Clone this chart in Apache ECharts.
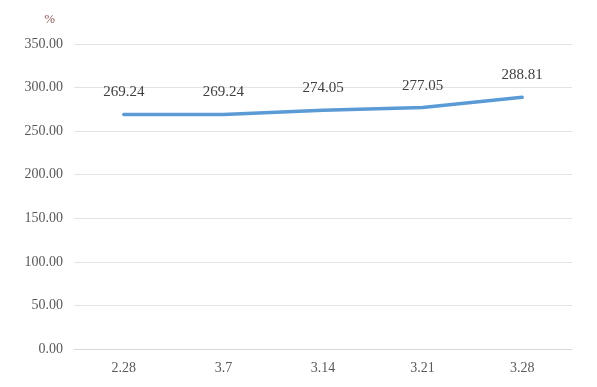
<!DOCTYPE html>
<html><head><meta charset="utf-8">
<script src="https://cdn.jsdelivr.net/npm/echarts@6/dist/echarts.min.js"></script>
<style>html,body{margin:0;padding:0;background:#fff}#c{width:597px;height:387px}</style>
</head><body><div id="c"></div>
<script>
const categories = ['2.28', '3.7', '3.14', '3.21', '3.28'];
const values = [269.24, 269.24, 274.05, 277.05, 288.81];
const yTicks = {min: 0, max: 350, interval: 50};
const unitName = '%';

const font = '"Liberation Serif", "DejaVu Serif", serif';
const chart = echarts.init(document.getElementById('c'));
chart.setOption({
  animation: false,
  grid: {left: 74, right: 25, top: 44, bottom: 38},
  xAxis: {
    type: 'category', data: categories,
    axisLine: {lineStyle: {color: '#d9d9d9', width: 1}},
    axisTick: {show: false},
    axisLabel: {color: '#595959', fontFamily: font, fontSize: 14, margin: 12}
  },
  yAxis: {
    type: 'value', min: yTicks.min, max: yTicks.max, interval: yTicks.interval,
    name: unitName, nameLocation: 'end', nameGap: 18,
    nameTextStyle: {color: '#8a5a5a', fontFamily: font, fontSize: 13, align: 'right', padding: [0, 19, 0, 0]},
    axisLine: {show: false}, axisTick: {show: false},
    splitLine: {lineStyle: {color: '#e3e3e3', width: 1}},
    axisLabel: {color: '#595959', fontFamily: font, fontSize: 14, margin: 11,
      formatter: v => v.toFixed(2)}
  },
  series: [{
    type: 'line', data: values, showSymbol: true, symbol: 'circle', symbolSize: 1,
    itemStyle: {color: '#5B9BD5', opacity: 0},
    lineStyle: {color: '#5B9BD5', width: 3.5, cap: 'round'},
    label: {show: true, position: 'top', distance: 14, color: '#404040', fontFamily: font, fontSize: 15,
      opacity: 1, formatter: p => p.value.toFixed(2)}
  }]
});
</script></body></html>
